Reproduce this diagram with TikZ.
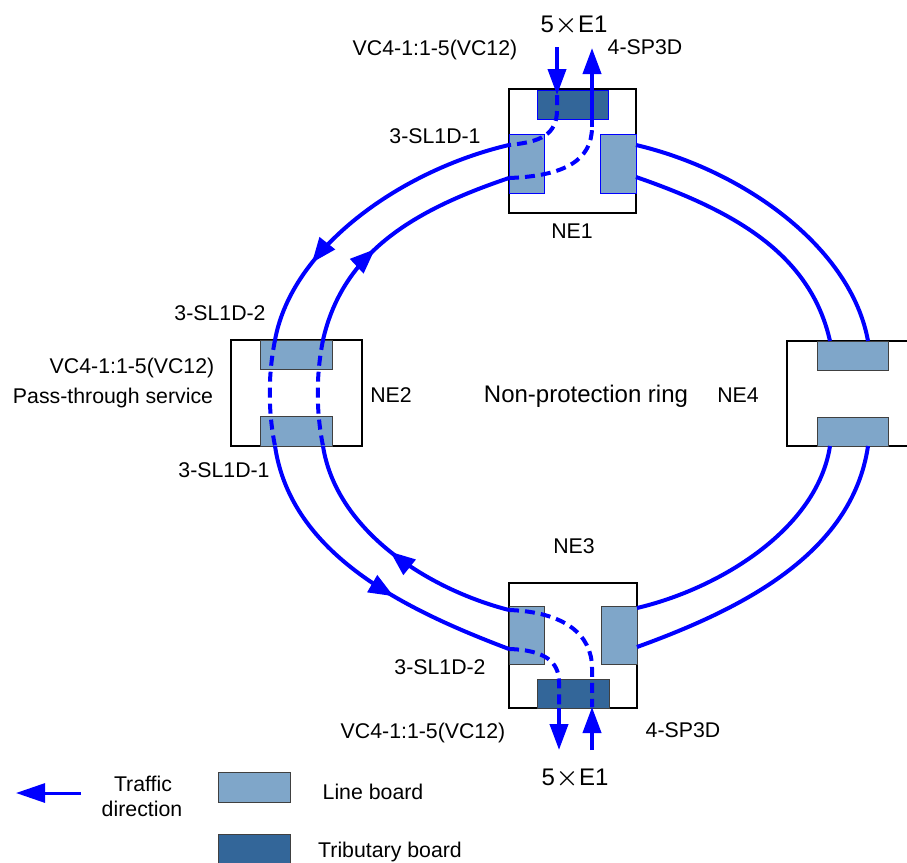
\documentclass[tikz,border=0pt]{standalone}
\usepackage{fontspec}
\setmainfont{Liberation Sans}
\usetikzlibrary{arrows.meta,decorations.markings}
\definecolor{ring}{RGB}{0,0,255}
\definecolor{lineb}{RGB}{127,166,201}
\definecolor{tribb}{RGB}{51,102,153}
\newfontfamily\thinfont{DejaVu Sans ExtraLight}
\newcommand{\ee}{\makebox[1em]{\raisebox{-2.2pt}{\fontsize{28}{28}\selectfont\thinfont ×}}}
\begin{document}
\begin{tikzpicture}[x=1pt,y=-1pt,
  ringline/.style={draw=ring,line width=4pt},
  dashline/.style={draw=ring,line width=4pt,dash pattern=on 10pt off 6pt},
  nebox/.style={draw=black,line width=1.5pt,fill=white,inner sep=0pt},
  lbox/.style={draw=black!75,line width=1pt,fill=lineb,inner sep=0pt},
  lboxb/.style={draw=ring,line width=1pt,fill=lineb,inner sep=0pt},
  tbox/.style={draw=black!75,line width=1pt,fill=tribb,inner sep=0pt},
  tboxb/.style={draw=ring,line width=1pt,fill=tribb,inner sep=0pt},
  lbl/.style={font=\fontsize{21.3}{25}\selectfont,anchor=base,inner sep=0pt},
  big/.style={font=\fontsize{24}{28}\selectfont,anchor=base,inner sep=0pt},
  vtip/.style={-{Triangle[length=26pt,width=18pt]}},
  ringmark/.style={postaction={decorate},decoration={markings,
     mark=at position #1 with {\arrow{Triangle[length=25pt,width=19pt]}}}}
]
\useasboundingbox (0,0) rectangle (907,862);

% NE boxes
\node[nebox,minimum width=127pt,minimum height=124pt] (ne1) at (572.5,151) {};
\node[nebox,minimum width=131pt,minimum height=106pt] (ne2) at (296.5,393) {};
\node[nebox,minimum width=130pt,minimum height=105pt] (ne4) at (852,393.5) {};
\node[nebox,minimum width=128pt,minimum height=125pt] (ne3) at (573,645.5) {};

% boards
\node[tboxb,minimum width=71pt,minimum height=29pt] (n1t) at (572.5,104.5) {};
\node[lboxb,minimum width=35pt,minimum height=59pt] (n1a) at (526.5,163.5) {};
\node[lboxb,minimum width=36pt,minimum height=59pt] (n1b) at (618,163.5) {};
\node[lbox,minimum width=72pt,minimum height=29pt] (n2a) at (296,354.5) {};
\node[lbox,minimum width=72pt,minimum height=30pt] (n2b) at (296,431) {};
\node[lbox,minimum width=71pt,minimum height=29pt] (n4a) at (852.5,355.5) {};
\node[lbox,minimum width=71pt,minimum height=29pt] (n4b) at (852.5,431.5) {};
\node[tbox,minimum width=72pt,minimum height=29pt] (n3t) at (573,693.5) {};
\node[lbox,minimum width=35pt,minimum height=58pt] (n3a) at (526.5,635) {};
\node[lbox,minimum width=36pt,minimum height=58pt] (n3b) at (619,635) {};

% ring end points
\coordinate (p1o) at (509,145);  \coordinate (p1i) at (509,178);
\coordinate (p1ro) at (636,145); \coordinate (p1ri) at (636,177);
\coordinate (p2to) at (275,340); \coordinate (p2ti) at (323,340);
\coordinate (p2bo) at (275,446); \coordinate (p2bi) at (323,446);
\coordinate (p4to) at (868,341); \coordinate (p4ti) at (830,341);
\coordinate (p4bo) at (868,446); \coordinate (p4bi) at (830,446);
\coordinate (p3o) at (509,649);  \coordinate (p3i) at (509,610);
\coordinate (p3ro) at (637,647); \coordinate (p3ri) at (637,608);

% left side (with traffic arrows)
\draw[ringline,ringmark=0.73] (p1o) .. controls (402,170) and (292,247) .. (p2to);
\draw[ringline,ringmark=0.41] (p2ti) .. controls (343,252) and (414,210) .. (p1i);
\draw[ringline,ringmark=0.61] (p2bo) .. controls (291,555) and (406,610) .. (p3o);
\draw[ringline,ringmark=0.51] (p3i) .. controls (427,589) and (336,530) .. (p2bi);
% right side
\draw[ringline] (p1ro) .. controls (743,170) and (851,247) .. (p4to);
\draw[ringline] (p1ri) .. controls (731,210) and (810,252) .. (p4ti);
\draw[ringline] (p4bo) .. controls (852,555) and (739,610) .. (p3ro);
\draw[ringline] (p4bi) .. controls (817,530) and (718,589) .. (p3ri);

% pass-through at NE2
\draw[dashline] (p2to) .. controls (268,375) and (268,411) .. (p2bo);
\draw[dashline] (p2ti) .. controls (316,375) and (316,411) .. (p2bi);

% add/drop at NE1
\coordinate (a1s) at (557,47);  \coordinate (a1e) at (557,95);
\coordinate (b1s) at (592,127); \coordinate (b1e) at (592,48);
\draw[dashline] (a1e) -- (557,110) .. controls (557,135) and (540,142) .. (p1o);
\draw[dashline] (p1i) .. controls (565,176) and (592,160) .. (b1s);
\draw[ringline,vtip] (a1s) -- (a1e);
\draw[ringline,vtip] (b1s) -- (b1e);

% add/drop at NE3
\coordinate (a3s) at (559,708); \coordinate (a3e) at (559,750);
\coordinate (b3s) at (592,750); \coordinate (b3e) at (592,707);
\draw[dashline] (p3i) .. controls (565,612) and (592,635) .. (592,668) -- (b3e);
\draw[dashline] (p3o) .. controls (545,650) and (559,662) .. (559,682) -- (a3s);
\draw[ringline,vtip] (a3s) -- (a3e);
\draw[ringline,vtip] (b3s) -- (b3e);

% labels
\node[big] (e1top) at (574,32) {5\ee E1};
\node[lbl] (vc1) at (435,55) {VC4-1:1-5(VC12)};
\node[lbl] (sp1) at (645,54) {4-SP3D};
\node[lbl] (sl11) at (435,143) {3-SL1D-1};
\node[lbl] (lne1) at (572,238) {NE1};
\node[lbl] (sl22) at (220,320) {3-SL1D-2};
\node[lbl] (vc2) at (132,373) {VC4-1:1-5(VC12)};
\node[lbl] (pts) at (113,403) {Pass-through service};
\node[lbl] (lne2) at (391,402) {NE2};
\node[lbl] (sl21) at (224,477) {3-SL1D-1};
\node[big] (npr) at (586,402) {Non-protection ring};
\node[lbl] (lne4) at (738,402) {NE4};
\node[lbl] (lne3) at (574,553) {NE3};
\node[lbl] (sl32) at (440,674) {3-SL1D-2};
\node[lbl] (vc3) at (423,738) {VC4-1:1-5(VC12)};
\node[lbl] (sp3) at (683,737) {4-SP3D};
\node[big] (e1bot) at (575,785) {5\ee E1};

% legend
\coordinate (lgs) at (81,793); \coordinate (lge) at (16,793);
\draw[draw=ring,line width=3pt,-{Triangle[length=29pt,width=19pt]}] (lgs) -- (lge);
\node[lbl] (ltr1) at (143,791) {Traffic};
\node[lbl] (ltr2) at (142,816) {direction};
\node[lbox,minimum width=72pt,minimum height=30pt] (lgl) at (254,787) {};
\node[lbl] (llb) at (373,799) {Line board};
\node[tbox,minimum width=72pt,minimum height=30pt] (lgt) at (254,849) {};
\node[lbl] (ltb) at (390,857) {Tributary board};
\end{tikzpicture}
\end{document}
